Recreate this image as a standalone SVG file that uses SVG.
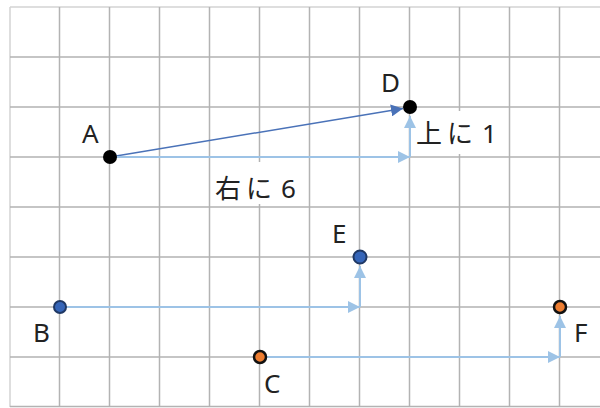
<svg xmlns="http://www.w3.org/2000/svg" width="600" height="408" viewBox="0 0 600 408">
<defs>
<style>
.grid{stroke:#b3b3b3;stroke-width:1.5;fill:none}
.border{stroke:#d4d4d4;stroke-width:1.5;fill:none}
.lb{stroke:#9dc3e6;stroke-width:2;fill:none}
.db{stroke:#4a72b8;stroke-width:1.5;fill:none}
.lbl{font-family:"Noto Sans","Noto Sans CJK JP",sans-serif;font-size:26px;fill:#222}
.blk{fill:#000}
.blu{fill:#3565b8;stroke:#1f3864;stroke-width:2}
.org{fill:#ed7d31;stroke:#111;stroke-width:2.5}
</style>
<marker id="ah" viewBox="0 0 12 12" refX="12" refY="6" markerWidth="12" markerHeight="12" markerUnits="userSpaceOnUse" orient="auto">
<path d="M0,0 L12,6 L0,12 Z" fill="#9dc3e6"/>
</marker>
<marker id="ahd" viewBox="0 0 12 12" refX="12" refY="6" markerWidth="12" markerHeight="12" markerUnits="userSpaceOnUse" orient="auto">
<path d="M0,0 L12,6 L0,12 Z" fill="#4a72b8"/>
</marker>
</defs>
<rect width="600" height="408" fill="#fff"/>
<g id="grid">
<path class="border" d="M10,7 H600 M10,7 V407"/>
<path class="grid" d="M59.5,7 V407 M109.5,7 V407 M159.5,7 V407 M209.5,7 V407 M259.5,7 V407 M309.5,7 V407 M359.5,7 V407 M409.5,7 V407 M459.5,7 V407 M509.5,7 V407 M559.5,7 V407"/>
<path class="grid" d="M10,57 H600 M10,107 H600 M10,157 H600 M10,207 H600 M10,257 H600 M10,307 H600 M10,357 H600 M10,406.5 H600"/>
</g>
<g id="labels-bg">
<rect x="212" y="162" width="94" height="42" fill="#fff"/>
<rect x="413" y="111" width="94" height="43" fill="#fff"/>
</g>
<g id="connectors">
<path class="db" d="M110,157 L403,108.5" marker-end="url(#ahd)"/>
<path class="lb" d="M110,157 H410" marker-end="url(#ah)"/>
<path class="lb" d="M410,157 V116" marker-end="url(#ah)"/>
<path class="lb" d="M60,307 H360" marker-end="url(#ah)"/>
<path class="lb" d="M360,307 V266" marker-end="url(#ah)"/>
<path class="lb" d="M260,357 H560" marker-end="url(#ah)"/>
<path class="lb" d="M560,357 V316" marker-end="url(#ah)"/>
</g>
<g id="A"><circle class="blk" cx="110" cy="157" r="7"/><text class="lbl" x="82" y="143">A</text></g>
<g id="D"><circle class="blk" cx="410" cy="107" r="7"/><text class="lbl" x="381" y="92">D</text></g>
<g id="B"><circle class="blu" cx="60" cy="307" r="6"/><text class="lbl" x="33" y="342">B</text></g>
<g id="E"><circle class="blu" cx="360" cy="257" r="6.5"/><text class="lbl" x="332" y="243">E</text></g>
<g id="C"><circle class="org" cx="260" cy="357" r="6"/><text class="lbl" x="264" y="393">C</text></g>
<g id="F"><circle class="org" cx="560" cy="307" r="6"/><text class="lbl" x="574" y="342">F</text></g>
<g id="move-right"><text class="lbl" x="215 246 272 281" y="198">右に 6</text></g>
<g id="move-up"><text class="lbl" x="416 447 473 482" y="143">上に 1</text></g>
</svg>
